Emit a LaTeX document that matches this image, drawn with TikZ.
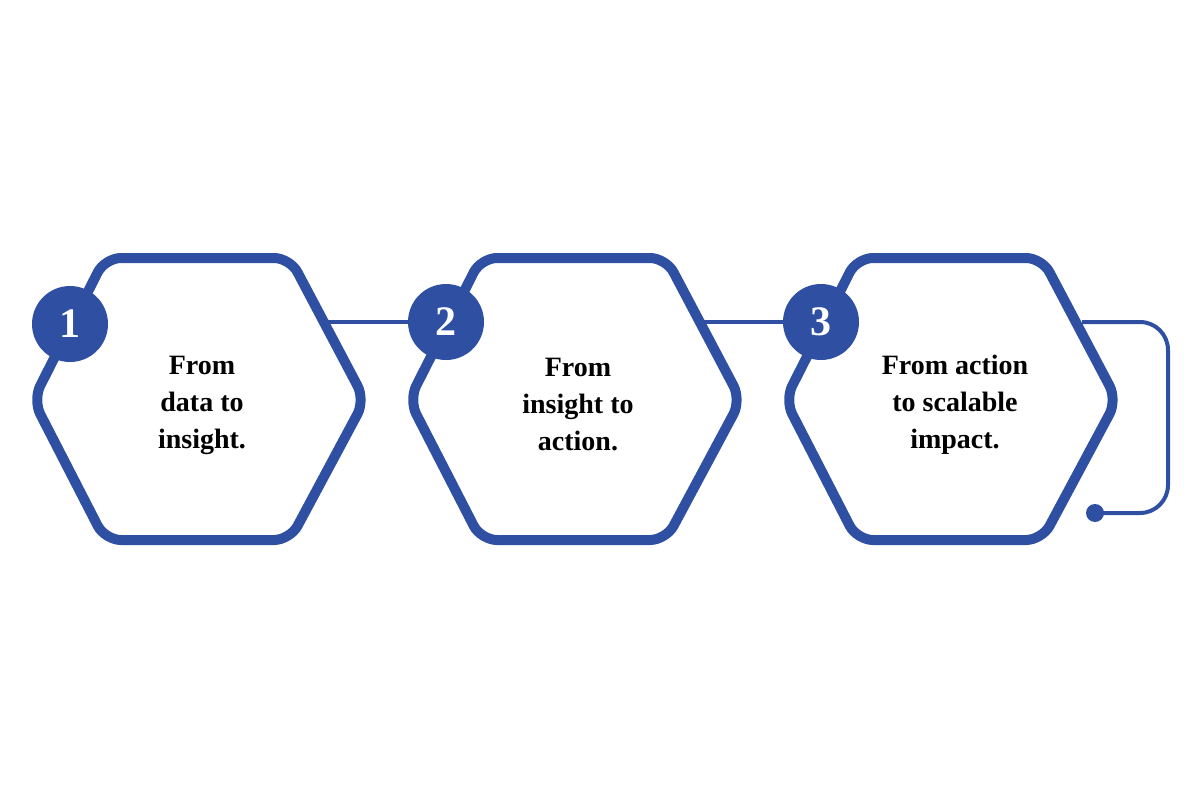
\documentclass[tikz,border=0pt]{standalone}
\usepackage{fontspec}
\setmainfont{Liberation Serif}
\definecolor{hexblue}{HTML}{2F50A2}
\begin{document}
\begin{tikzpicture}[x=1pt,y=-1pt,
  hexline/.style={draw=hexblue,line width=10pt,rounded corners=16pt,fill=white},
  conn/.style={draw=hexblue,line width=4pt},
  numc/.style={circle,fill=hexblue,minimum size=76pt,inner sep=0pt,text=white,font=\bfseries\fontsize{42}{42}\selectfont},
  lbl/.style={align=center,font=\bfseries\fontsize{28}{37}\selectfont}]
\useasboundingbox (0,0) rectangle (1200,800);
\foreach \i/\dx in {1/0,2/376,3/752}{
  \draw[hexline] (33+\dx,400) -- (105+\dx,258) -- (290+\dx,258) -- (365+\dx,400) -- (290+\dx,540) -- (105+\dx,540) -- cycle;
}
\node[numc] (c1) at (70,324) {1};
\node[numc] (c2) at (446,322) {2};
\node[numc] (c3) at (821,322) {3};
\coordinate (h1r) at (327,322);
\coordinate (h2r) at (703,322);
\coordinate (h3r) at (1082,322);
\coordinate (endp) at (1095,513);
\draw[conn] (h1r) -- (c2);
\draw[conn] (h2r) -- (c3);
\draw[conn,rounded corners=28pt] (h3r) -- (1168,322) -- (1168,513) -- (endp);
\fill[hexblue] (endp) circle (9pt);
\node[lbl] (t1) at (202,405) {From\\data to\\insight.};
\node[lbl] (t2) at (578,405) {From\\insight to\\action.};
\node[lbl] (t3) at (955,405) {From action\\to scalable\\impact.};
\end{tikzpicture}
\end{document}
